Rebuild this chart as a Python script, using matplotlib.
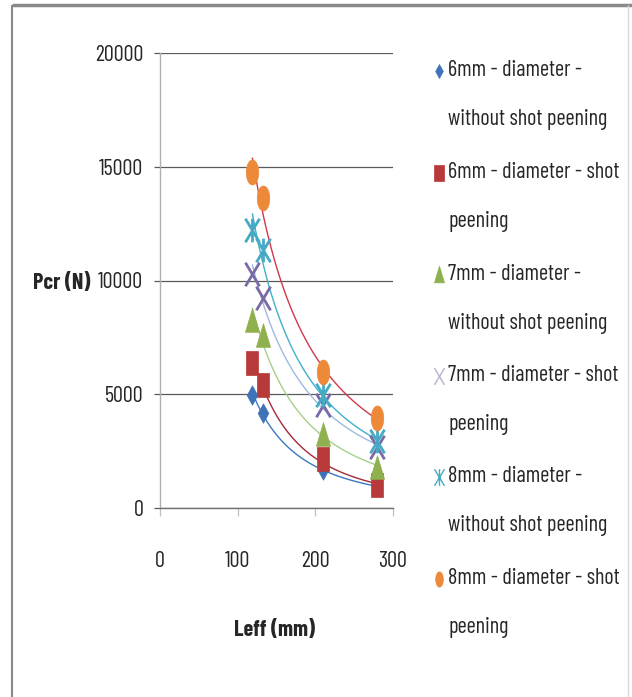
import numpy as np
import matplotlib
matplotlib.use("Agg")
import matplotlib.pyplot as plt
from matplotlib.path import Path
from matplotlib import font_manager

# ---------------- data ----------------
leff = [119, 133, 210, 280]
d6_no_sp = [4970, 4170, 1650, 950]
d6_sp = [6370, 5400, 2150, 1000]
d7_no_sp = [8260, 7600, 3250, 1820]
d7_sp = [10300, 9220, 4530, 2700]
d8_no_sp = [12220, 11340, 4970, 2950]
d8_sp = [14780, 13610, 5990, 3940]

labels = [
    "6mm - diameter -\nwithout shot peening",
    "6mm - diameter - shot\npeening",
    "7mm - diameter -\nwithout shot peening",
    "7mm - diameter - shot\npeening",
    "8mm - diameter -\nwithout shot peening",
    "8mm - diameter - shot\npeening",
]
xticks = [0, 100, 200, 300]
yticks = [0, 5000, 10000, 15000, 20000]
xlabel = "Leff (mm)"
ylabel = "Pcr (N)"

# ---------------- styling ----------------
names = {f.name for f in font_manager.fontManager.ttflist}
pref = [("Barlow Condensed", 16), ("Archivo Narrow", 15), ("PT Sans Narrow", 15),
        ("Roboto Condensed", 14)]
chosen = [(p, s) for p, s in pref if p in names]
if chosen:
    FAM = [chosen[0][0], "DejaVu Sans"]
    FS = chosen[0][1]
else:
    FAM = ["DejaVu Sans"]
    FS = 12
plt.rcParams["font.family"] = FAM
TXT = "#262626"

def mk(verts):
    verts = np.asarray(verts, float)
    v = np.vstack([verts, verts[:1]])
    codes = [Path.MOVETO] + [Path.LINETO] * (len(verts) - 1) + [Path.CLOSEPOLY]
    return Path(v, codes)

t = np.linspace(0, 2 * np.pi, 40, endpoint=False)
ellipse = mk(np.c_[0.5 * np.cos(t), np.sin(t)])
diamond = mk([(0, 1), (0.55, 0), (0, -1), (-0.55, 0)])
rect = mk([(-0.55, -1), (0.55, -1), (0.55, 1), (-0.55, 1)])
tri = mk([(-0.6, -1), (0.6, -1), (0, 1)])
xmark = Path([(-0.6, -1), (0.6, 1), (-0.6, 1), (0.6, -1)],
             [Path.MOVETO, Path.LINETO, Path.MOVETO, Path.LINETO])
star = Path([(-0.6, -1), (0.6, 1), (-0.6, 1), (0.6, -1), (0, -1), (0, 1)],
            [Path.MOVETO, Path.LINETO, Path.MOVETO, Path.LINETO, Path.MOVETO, Path.LINETO])

series = [d6_no_sp, d6_sp, d7_no_sp, d7_sp, d8_no_sp, d8_sp]
colors = ["#3f73b8", "#b8393a", "#8fb04e", "#7a6aa8", "#46aac4", "#ec8a3a"]
trend_colors = ["#3a78c0", "#a8283a", "#a6d08a", "#9bbbe0", "#3fb0cc", "#d0384a"]
markers = [diamond, rect, tri, xmark, star, ellipse]
filled = [True, True, True, False, False, True]
msizes = [14, 17, 17, 17, 17, 18]
lsizes = [10, 12, 12, 12, 12, 11]

W, H = 632, 697
fig = plt.figure(figsize=(W / 100, H / 100), dpi=100)
fig.patch.set_facecolor("white")

def fx(px):
    return px / W

def fy(py):
    return 1 - py / H

ax = fig.add_axes([fx(160), fy(508), fx(393) - fx(160), fy(53) - fy(508)])
ax.set_xlim(0, 300)
ax.set_ylim(0, 20000)
ax.set_xticks(xticks)
ax.set_yticks(yticks)
ax.set_xticklabels([str(v) for v in xticks])
ax.set_yticklabels([str(v) for v in yticks])
for s in ["top", "right"]:
    ax.spines[s].set_visible(False)
ax.spines["left"].set_color("#b0b0b0")
ax.spines["left"].set_linewidth(1.0)
ax.spines["bottom"].set_color("#707070")
ax.spines["bottom"].set_linewidth(1.0)
ax.grid(axis="y", color="#5a5a5a", linewidth=0.9)
ax.set_axisbelow(True)
ax.tick_params(axis="y", length=4, width=0.9, color="#5a5a5a", pad=8,
               labelsize=FS, labelcolor=TXT)
ax.tick_params(axis="x", length=6, width=0.9, color="#c0c0c0", pad=25,
               labelsize=FS, labelcolor=TXT)

xs = np.array(leff, float)
xx = np.linspace(xs.min(), xs.max(), 200)
for i, ys in enumerate(series):
    ys = np.array(ys, float)
    b, la = np.polyfit(np.log(xs), np.log(ys), 1)
    ax.plot(xx, np.exp(la) * xx ** b, color=trend_colors[i], lw=1.0, zorder=2)
for i, ys in enumerate(series):
    if filled[i]:
        ax.plot(leff, ys, linestyle="none", marker=markers[i], markersize=msizes[i],
                markerfacecolor=colors[i], markeredgecolor=colors[i],
                markeredgewidth=0.5, zorder=3)
    else:
        ax.plot(leff, ys, linestyle="none", marker=markers[i], markersize=msizes[i],
                markerfacecolor="none", markeredgecolor=colors[i],
                markeredgewidth=2.0, zorder=3)

fig.text(fx(62), fy(283), ylabel, ha="center", va="center", fontsize=FS,
         fontweight="bold", color=TXT)
fig.text(fx(275), fy(630), xlabel, ha="center", va="center", fontsize=FS,
         fontweight="bold", color=TXT)

# legend (manual, markers aligned with the first line)
lax = fig.add_axes([0, 0, 1, 1], facecolor="none")
lax.set_xlim(0, W)
lax.set_ylim(H, 0)
lax.axis("off")
for i, lab in enumerate(labels):
    y0 = 71 + i * 101.5
    l1, l2 = lab.split("\n")
    if filled[i]:
        lax.plot([439], [y0], linestyle="none", marker=markers[i], markersize=lsizes[i],
                 markerfacecolor=colors[i], markeredgecolor=colors[i], markeredgewidth=0.5)
    else:
        lax.plot([439], [y0], linestyle="none", marker=markers[i], markersize=lsizes[i],
                 markerfacecolor="none", markeredgecolor=colors[i] if i == 4 else "#b8b0d0",
                 markeredgewidth=1.0)
    lax.text(448, y0, l1, ha="left", va="center", fontsize=FS, color=TXT)
    lax.text(448, y0 + 49, l2, ha="left", va="center", fontsize=FS, color=TXT)

# chart frame
lax.plot([12, 632], [5, 5], color="#8a8a8a", lw=2.5, solid_capstyle="butt")
lax.plot([12, 12], [5, 697], color="#8a8a8a", lw=1.5, solid_capstyle="butt")
lax.plot([628, 628], [5, 697], color="#d8d8d8", lw=1.0, solid_capstyle="butt")

fig.savefig("out.png", dpi=100, facecolor="white")
